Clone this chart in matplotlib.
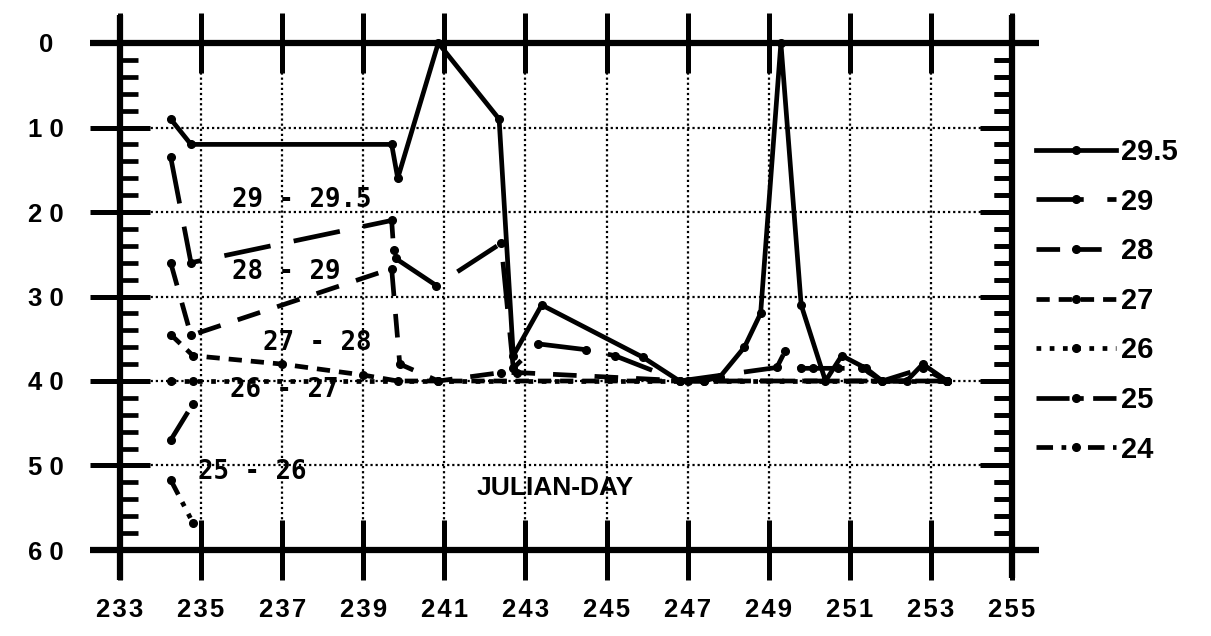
import matplotlib.pyplot as plt
import matplotlib.ticker as mticker

# depth of each temperature isoline against julian day
day_295 = [234.25, 234.75, 239.7, 239.85, 240.85, 242.35, 242.7, 243.4, 245.9, 246.8,
           247.4, 247.8, 248.4, 248.8, 249.3, 249.8, 250.4, 250.8, 251.4, 251.8,
           252.4, 252.8, 253.4]
dep_295 = [9, 12, 12, 16, 0, 9, 37, 31, 37.2, 40,
           40, 39.5, 36, 32, 0, 31, 40, 37, 38.5, 40,
           40, 38, 40]

day_29 = [234.25, 234.75, 239.7, 239.75, 239.8, 240.8, 242.4, 242.7, 243.3, 244.5,
          245.2, 246.8, 249.2, 249.4, 249.8, 250.1, 250.7, 251.3, 251.8, 252.8, 253.4]
dep_29 = [13.5, 26, 21, 24.5, 25.5, 28.7, 23.7, 38.5, 35.6, 36.3,
          37, 40, 38.4, 36.5, 38.5, 38.5, 38.5, 38.5, 40, 38.5, 40]

day_28 = [234.25, 234.75, 239.7, 239.9, 240.85, 242.4, 242.8, 247.0, 253.4]
dep_28 = [26, 34.6, 26.7, 38, 40, 39, 39, 40, 40]

day_27 = [234.25, 234.8, 237.0, 239.0, 239.85, 253.4]
dep_27 = [34.5, 37, 38, 39.3, 40, 40]

day_26 = [234.25, 234.8, 240.85, 247.4, 253.4]
dep_26 = [40, 40, 40, 40, 40]

day_25 = [234.25, 234.8]
dep_25 = [47, 42.7]

day_24 = [234.25, 234.8]
dep_24 = [51.7, 56.8]

series_labels = ["29.5", "29", "28", "27", "26", "25", "24"]

x_ticks = list(range(233, 256, 2))
x_ticklabels = ["\u200a".join(str(v)) for v in x_ticks]
y_ticks = list(range(0, 61, 10))
y_ticklabels = ["0", "1 0", "2 0", "3 0", "4 0", "5 0", "6 0"]

fig = plt.figure(figsize=(12.11, 6.36), dpi=100)
ax = fig.add_axes([120 / 1211, 1 - 550 / 636, 892 / 1211, 507 / 636])

dashes = [
    "-",
    (0, (10, 5)),
    (0, (5, 3.8)),
    (0, (2.8, 1.9)),
    (0, (1, 1.8)),
    (0, (7, 2, 1, 2)),
    (0, (3.5, 1.8, 1, 1.8, 1, 1.8)),
]
data = [(day_295, dep_295), (day_29, dep_29), (day_28, dep_28), (day_27, dep_27),
        (day_26, dep_26), (day_25, dep_25), (day_24, dep_24)]

lines = []
for (d, z), ls, lab in zip(data, dashes, series_labels):
    ln, = ax.plot(d, z, color="black", lw=3.4, ls=ls, marker="o", ms=5.5,
                  clip_on=False, label=lab)
    lines.append(ln)

ax.set_xlim(233, 255)
ax.set_ylim(60, 0)

# frame drawn as heavy lines running past the corners
for s in ax.spines.values():
    s.set_visible(False)
frame_kw = dict(color="black", lw=4.5, transform=ax.transAxes, clip_on=False,
                solid_capstyle="butt")
ax.plot([0, 0], [-0.06, 1.055], **frame_kw)
ax.plot([1, 1], [-0.055, 1.055], **frame_kw)
ax.plot([-0.034, 1.03], [1, 1], **frame_kw)
ax.plot([-0.034, 1.03], [0, 0], **frame_kw)

ax.xaxis.set_major_locator(mticker.FixedLocator(x_ticks))
ax.yaxis.set_major_locator(mticker.FixedLocator(y_ticks))
ax.yaxis.set_minor_locator(mticker.MultipleLocator(2))
ax.set_yticklabels(y_ticklabels)
ax.set_xticklabels(x_ticklabels)

ax.tick_params(axis="x", which="major", top=True, bottom=True, direction="inout",
               length=43, width=3.6, pad=13)
ax.tick_params(axis="y", which="major", left=True, right=False, direction="inout",
               length=43, width=3.6, pad=32)
ax.tick_params(axis="y", which="minor", left=True, right=True, direction="in",
               length=13, width=3.4)
for lab in ax.get_yticklabels():
    lab.set_horizontalalignment("center")
for lab in ax.get_xticklabels() + ax.get_yticklabels():
    lab.set_fontfamily(["Liberation Sans", "DejaVu Sans"])
    lab.set_fontweight("bold")
    lab.set_fontsize(18.5)

right = ax.secondary_yaxis("right")
right.spines["right"].set_visible(False)
right.yaxis.set_major_locator(mticker.FixedLocator(y_ticks))
right.yaxis.set_minor_locator(mticker.MultipleLocator(2))
right.tick_params(which="major", direction="in", length=23, width=3.6, labelright=False)
right.tick_params(which="minor", direction="in", length=13, width=3.4)

ax.grid(True, which="major", color="black", lw=1.6, ls=(0, (1, 1.3)))
ax.set_axisbelow(True)

mono = dict(family="DejaVu Sans Mono", fontweight="bold", fontsize=18.5, va="center")
ax.text(235.77, 18.6, "29 - 29.5", **mono)
ax.text(235.77, 27.1, "28 - 29", **mono)
ax.text(236.53, 35.5, "27 - 28", **mono)
ax.text(235.72, 41.1, "26 - 27", **mono)
ax.text(234.93, 50.8, "25 - 26", **mono)
ax.text(243.74, 52.7, "JULIAN-DAY", family="Liberation Sans", fontweight="bold",
        fontsize=19, ha="center", va="center")

fig.legend(handles=lines, loc="upper left", bbox_to_anchor=(1036 / 1211, 1 - 138 / 636),
           frameon=False, prop=dict(family="Liberation Sans", weight="bold", size=21),
           handlelength=2.75, handletextpad=0.15, labelspacing=0.74, borderpad=0,
           borderaxespad=0, numpoints=1)

fig.savefig("out.png", dpi=100)
